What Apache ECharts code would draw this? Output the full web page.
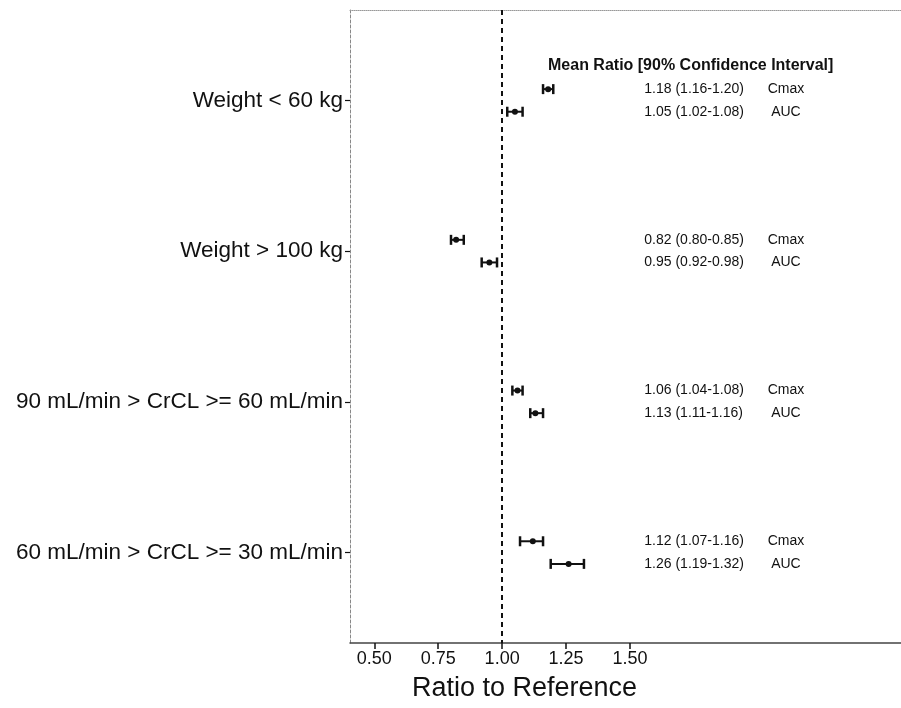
<!DOCTYPE html>
<html>
<head>
<meta charset="utf-8">
<script src="https://cdn.jsdelivr.net/npm/echarts@6/dist/echarts.min.js"></script>
<style>html,body{margin:0;padding:0;background:#fff}#c{width:901px;height:708px}</style>
</head>
<body>
<div id="c"></div>
<script>
// ---- data ----
var groups = ["Weight < 60 kg", "Weight > 100 kg", "90 mL/min > CrCL >= 60 mL/min", "60 mL/min > CrCL >= 30 mL/min"];
var cmaxMean = [1.18, 0.82, 1.06, 1.12];
var cmaxLo   = [1.16, 0.80, 1.04, 1.07];
var cmaxHi   = [1.20, 0.85, 1.08, 1.16];
var aucMean  = [1.05, 0.95, 1.13, 1.26];
var aucLo    = [1.02, 0.92, 1.11, 1.19];
var aucHi    = [1.08, 0.98, 1.16, 1.32];
var paramNames = ["Cmax", "AUC"];
var xTicks = [0.5, 0.75, 1.0, 1.25, 1.5];
var groupPos = [0, 1, 2, 3];
var rowOffset = [-0.075, 0.075];   // Cmax above, AUC below the group position
var valueTextX = 1.556;            // data x where the "mean (CI)" text starts
var paramTextX = 2.11;             // data x where the parameter name is centred

var FONT = "Liberation Sans";
var rows = [];
for (var g = 0; g < groups.length; g++) {
  rows.push([cmaxLo[g], cmaxHi[g], cmaxMean[g], groupPos[g] + rowOffset[0],
             cmaxMean[g].toFixed(2) + " (" + cmaxLo[g].toFixed(2) + "-" + cmaxHi[g].toFixed(2) + ")", paramNames[0]]);
  rows.push([aucLo[g], aucHi[g], aucMean[g], groupPos[g] + rowOffset[1],
             aucMean[g].toFixed(2) + " (" + aucLo[g].toFixed(2) + "-" + aucHi[g].toFixed(2) + ")", paramNames[1]]);
}

var chart = echarts.init(document.getElementById('c'), null, {renderer: 'canvas'});
chart.setOption({
  animation: false,
  backgroundColor: '#fff',
  title: [
    {text: 'Mean Ratio [90% Confidence Interval]', left: 543, top: 53,
     textStyle: {fontFamily: FONT, fontSize: 16, fontWeight: 'bold', color: '#111'}},
    {text: 'Ratio to Reference', left: 407, top: 670,
     textStyle: {fontFamily: FONT, fontSize: 27, fontWeight: 'normal', color: '#111'}}
  ],
  grid: {left: 350, top: 10, right: 0, bottom: 65, show: false},
  xAxis: [
    {type: 'value', position: 'bottom', min: 0.405, max: 2.56,
     axisLine: {show: true, onZero: false, lineStyle: {color: '#444', width: 1.5}},
     axisTick: {show: true, inside: false, length: 6, lineStyle: {color: '#111', width: 1.5}, customValues: xTicks},
     axisLabel: {show: true, margin: 7, fontFamily: FONT, fontSize: 18, color: '#111',
                 customValues: xTicks, formatter: function (v) { return v.toFixed(2); }},
     splitLine: {show: false}},
    {type: 'value', position: 'top', min: 0.405, max: 2.56,
     axisLine: {show: true, onZero: false, lineStyle: {color: '#999', width: 1, type: 'dotted'}},
     axisTick: {show: false}, axisLabel: {show: false}, splitLine: {show: false}}
  ],
  yAxis: {type: 'value', inverse: true, min: -0.6, max: 3.6,
    axisLine: {show: true, onZero: false, lineStyle: {color: '#888', width: 1, type: [3, 2]}},
    axisTick: {show: true, length: 5, lineStyle: {color: '#111', width: 1.2}, customValues: groupPos},
    axisLabel: {show: true, margin: 7, fontFamily: FONT, fontSize: 22.5, color: '#111',
                customValues: groupPos, formatter: function (v) { return groups[Math.round(v)]; }},
    splitLine: {show: false}},
  series: [{
    type: 'custom',
    data: rows,
    clip: false,
    renderItem: function (params, api) {
      var y = api.value(3);
      var pLo = api.coord([api.value(0), y]);
      var pHi = api.coord([api.value(1), y]);
      var pM = api.coord([api.value(2), y]);
      var pT = api.coord([valueTextX, y]);
      var pN = api.coord([paramTextX, y]);
      var cap = 5;
      var st = {stroke: '#111', lineWidth: 2};
      return {type: 'group', children: [
        {type: 'line', shape: {x1: pLo[0], y1: pLo[1], x2: pHi[0], y2: pHi[1]}, style: st},
        {type: 'line', shape: {x1: pLo[0], y1: pLo[1] - cap, x2: pLo[0], y2: pLo[1] + cap}, style: {stroke: '#111', lineWidth: 2.5}},
        {type: 'line', shape: {x1: pHi[0], y1: pHi[1] - cap, x2: pHi[0], y2: pHi[1] + cap}, style: {stroke: '#111', lineWidth: 2.5}},
        {type: 'circle', shape: {cx: pM[0], cy: pM[1], r: 3}, style: {fill: '#111'}},
        {type: 'text', x: pT[0], y: pT[1], style: {text: api.value(4), fill: '#111', fontFamily: FONT, fontSize: 14, align: 'left', verticalAlign: 'middle'}},
        {type: 'text', x: pN[0], y: pN[1], style: {text: api.value(5), fill: '#111', fontFamily: FONT, fontSize: 14, align: 'center', verticalAlign: 'middle'}}
      ]};
    },
    markLine: {
      silent: true, symbol: 'none', label: {show: false},
      lineStyle: {color: '#111', width: 2, type: [5, 4]},
      data: [{xAxis: 1.0}]
    }
  }]
});
</script>
</body>
</html>
